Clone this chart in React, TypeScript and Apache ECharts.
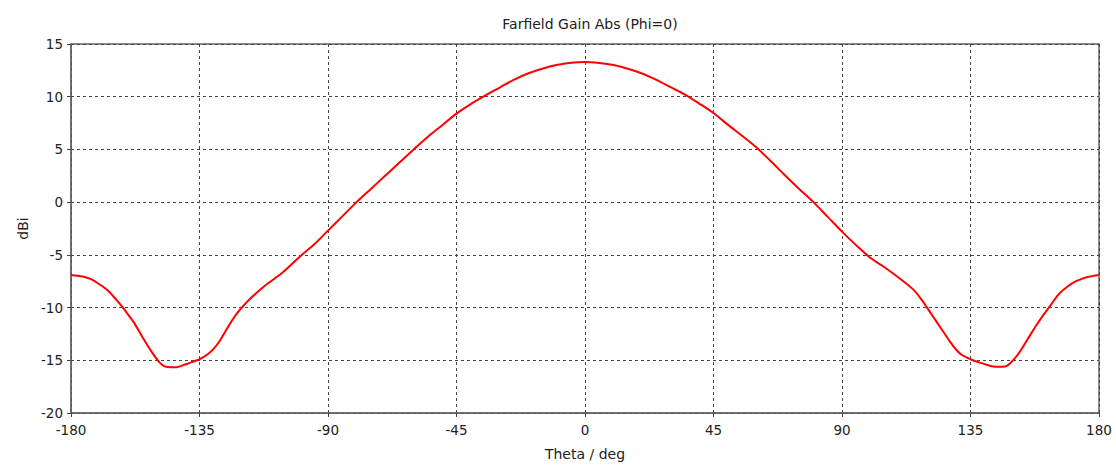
import React, { useEffect, useRef } from "react";
import * as echarts from "echarts";

const titleText = "Farfield Gain Abs (Phi=0)";
const xName = "Theta / deg";
const yName = "dBi";

const theta = [
  -180, -176, -173, -170, -167, -164, -161, -158, -155, -152, -149, -147, -145, -143, -140, -138, -135, -132, -130,
  -128, -126, -124, -122, -120, -117, -112, -106, -100, -95, -90, -85, -80, -75, -70, -65, -60, -55, -50, -45, -40,
  -35, -30, -25, -20, -15, -10, -5, 0, 5, 10, 15, 20, 25, 30, 35, 40, 45, 50, 55, 60, 65, 70, 75, 80, 85, 90, 95,
  100, 105, 110, 115, 118, 120, 122, 125, 128, 130, 132, 135, 138, 141, 143, 145, 147, 149, 152, 155, 158, 160, 163,
  166, 169, 172, 176, 180,
];

const gain = [
  -6.9, -7.05, -7.3, -7.8, -8.4, -9.3, -10.3, -11.4, -12.8, -14.1, -15.2, -15.6, -15.65, -15.65, -15.4, -15.2, -14.9,
  -14.4, -13.9, -13.2, -12.3, -11.4, -10.6, -9.95, -9.1, -7.9, -6.7, -5.2, -4.05, -2.7, -1.35, 0.0, 1.25, 2.5, 3.75,
  5.0, 6.2, 7.3, 8.4, 9.3, 10.1, 10.85, 11.6, 12.2, 12.65, 13.0, 13.22, 13.3, 13.2, 13.0, 12.65, 12.2, 11.6,
  10.9, 10.2, 9.35, 8.45, 7.35, 6.3, 5.2, 3.9, 2.55, 1.25, 0.0, -1.4, -2.8, -4.1, -5.3, -6.2, -7.2, -8.3, -9.3, -10.1,
  -10.9, -12.1, -13.3, -14.0, -14.5, -14.9, -15.2, -15.45, -15.6, -15.62, -15.6, -15.25, -14.3, -13.0, -11.7, -10.9,
  -9.8, -8.7, -8.0, -7.5, -7.1, -6.9,
];

const xMin = -180;
const xMax = 180;
const xStep = 45;
const yMin = -20;
const yMax = 15;
const yStep = 5;

export default function App() {
  const ref = useRef<HTMLDivElement>(null);
  useEffect(() => {
    if (!ref.current) return;
    const chart = echarts.init(ref.current, null, { renderer: "svg" });
    const font = "DejaVu Sans";
    const textColor = "#222";
    chart.setOption({
      animation: false,
      backgroundColor: "#fff",
      title: {
        text: titleText,
        left: 585,
        textAlign: "center",
        top: 12,
        textStyle: { fontFamily: font, fontSize: 14, fontWeight: "normal", color: textColor },
      },
      grid: {
        left: 71,
        right: 17,
        top: 44,
        bottom: 54,
        show: true,
        borderColor: "#666",
        borderWidth: 1.5,
        containLabel: false,
      },
      xAxis: {
        type: "value",
        min: xMin,
        max: xMax,
        interval: xStep,
        name: xName,
        nameLocation: "middle",
        nameGap: 34,
        nameTextStyle: { fontFamily: font, fontSize: 14, color: textColor },
        axisLine: { show: true, onZero: false, lineStyle: { color: "#666", width: 1.5 } },
        axisTick: { show: true, inside: false, length: 4, lineStyle: { color: "#444" } },
        axisLabel: { fontFamily: font, fontSize: 13.5, color: textColor, margin: 10 },
        splitLine: { show: true, lineStyle: { color: "#444", type: [3, 3], width: 1 } },
      },
      yAxis: {
        type: "value",
        min: yMin,
        max: yMax,
        interval: yStep,
        name: yName,
        nameLocation: "middle",
        nameGap: 39,
        nameTextStyle: { fontFamily: font, fontSize: 14, color: textColor },
        axisLine: { show: true, onZero: false, lineStyle: { color: "#666", width: 1.5 } },
        axisTick: { show: true, inside: false, length: 4, lineStyle: { color: "#444" } },
        axisLabel: { fontFamily: font, fontSize: 13.5, color: textColor, margin: 8 },
        splitLine: { show: true, lineStyle: { color: "#444", type: [3, 3], width: 1 } },
      },
      series: [
        {
          type: "line",
          data: theta.map((t, i) => [t, gain[i]]),
          showSymbol: false,
          smooth: 0.3,
          lineStyle: { color: "#ff0000", width: 2 },
          itemStyle: { color: "#ff0000" },
        },
      ],
    });
    return () => chart.dispose();
  }, []);
  return <div ref={ref} style={{ position: "fixed", left: 0, top: 0, width: 1116, height: 467 }} />;
}
